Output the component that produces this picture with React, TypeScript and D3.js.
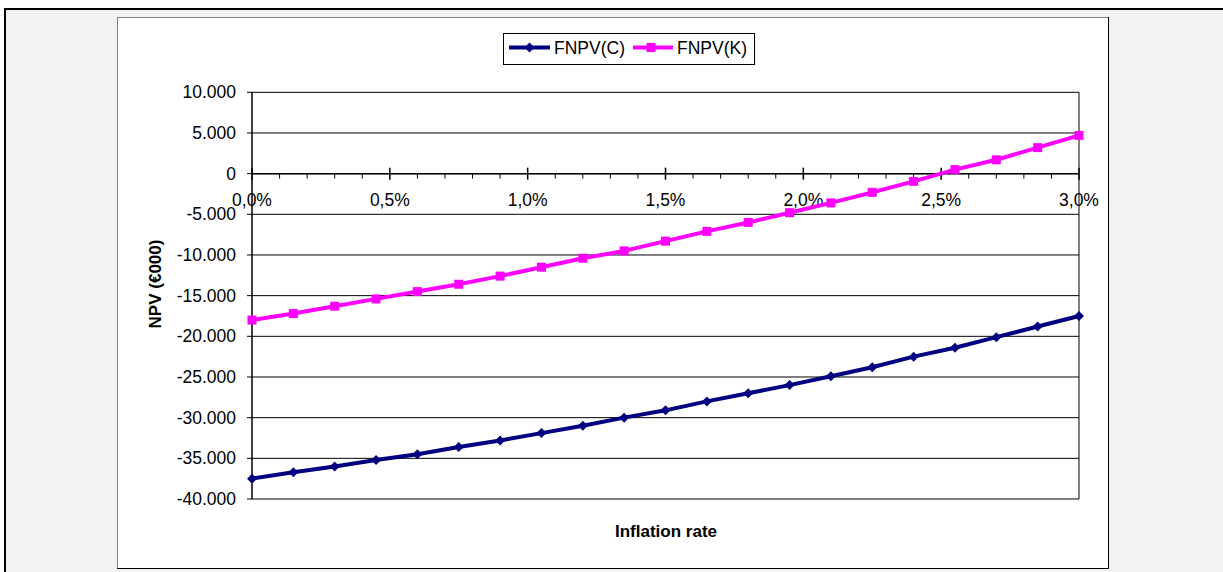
import * as d3 from 'd3'

const rates = [0, 0.15, 0.3, 0.45, 0.6, 0.75, 0.9, 1.05, 1.2, 1.35, 1.5, 1.65, 1.8, 1.95, 2.1, 2.25, 2.4, 2.55, 2.7, 2.85, 3.0]
const fnpvC = [-37500, -36700, -36000, -35200, -34500, -33600, -32800, -31900, -31000, -30000, -29100, -28000, -27000, -26000, -24900, -23800, -22500, -21400, -20100, -18800, -17500]
const fnpvK = [-18000, -17200, -16300, -15400, -14500, -13600, -12600, -11500, -10400, -9500, -8300, -7100, -6000, -4800, -3600, -2300, -950, 500, 1700, 3200, 4700]
const yTicks = [10000, 5000, 0, -5000, -10000, -15000, -20000, -25000, -30000, -35000, -40000]
const xMajor = [0, 0.5, 1, 1.5, 2, 2.5, 3]
const seriesNames = ['FNPV(C)', 'FNPV(K)']

const W = 1223
const H = 572
const font = '"Liberation Sans", Arial, sans-serif'

// european style: dot for thousands, comma for decimals, plain hyphen minus
const locale = d3.formatLocale({ decimal: ',', thousands: '.', grouping: [3], currency: ['€', ''], minus: '-' })
const fmtY = locale.format(',.0f')
const fmtX = locale.format('.1f')

export default function App() {
    const x = d3.scaleLinear().domain([0, 3]).range([252, 1079])
    const y = d3.scaleLinear().domain([-40000, 10000]).range([499, 92.3])

    const line = d3.line<number>()
        .x((_, i) => x(rates[i]))
        .y(d => y(d))

    const minor = d3.range(0, 31).map(i => i / 10).filter(v => Math.round(v * 10) % 5 !== 0)
    const y0 = y(0)

    const diamond = (cx: number, cy: number, r: number) =>
        `M${cx},${cy - r}L${cx + r},${cy}L${cx},${cy + r}L${cx - r},${cy}Z`

    return (
        <svg width={W} height={H} style={{ position: 'absolute', left: 0, top: 0, fontFamily: font }}>
            <rect x={0} y={0} width={W} height={H} fill="#fff" />
            <rect x={5} y={9} width={W} height={H} fill="#f2f2f2" stroke="#000" strokeWidth={2} />
            {/* chart area */}
            <rect x={117.5} y={17.5} width={991} height={551} fill="#fff" stroke="#808080" strokeWidth={1} />
            <line x1={1108.5} x2={1108.5} y1={17} y2={569} stroke="#000" />
            <line x1={117} x2={1109} y1={568.5} y2={568.5} stroke="#000" />

            {/* gridlines */}
            {yTicks.map(t => (
                <line key={t} x1={x(0)} x2={x(3)} y1={y(t)} y2={y(t)} stroke="#000" strokeWidth={1} />
            ))}
            <line x1={x(3)} x2={x(3)} y1={y(10000)} y2={y(-40000)} stroke="#000" strokeWidth={1} />

            {/* y axis */}
            <line x1={x(0)} x2={x(0)} y1={y(10000)} y2={y(-40000)} stroke="#000" strokeWidth={1.5} />
            {yTicks.map(t => (
                <g key={'yt' + t}>
                    <line x1={x(0) - 5} x2={x(0)} y1={y(t)} y2={y(t)} stroke="#000" />
                    <text x={236} y={y(t)} dy="0.35em" textAnchor="end" fontSize={17.5} fill="#000">{fmtY(t)}</text>
                </g>
            ))}

            {/* x axis at zero */}
            <line x1={x(0)} x2={x(3)} y1={y0} y2={y0} stroke="#000" strokeWidth={1.5} />
            {minor.map(v => (
                <line key={'mn' + v} x1={x(v)} x2={x(v)} y1={y0} y2={y0 + 5} stroke="#000" />
            ))}
            {xMajor.map(v => (
                <g key={'mj' + v}>
                    <line x1={x(v)} x2={x(v)} y1={y0 - 6} y2={y0 + 6} stroke="#000" strokeWidth={1.5} />
                    <text x={x(v)} y={206} textAnchor="middle" fontSize={17.5} fill="#000">{fmtX(v) + '%'}</text>
                </g>
            ))}

            {/* series */}
            <path d={line(fnpvC) || ''} fill="none" stroke="#000080" strokeWidth={4} strokeLinejoin="round" />
            {fnpvC.map((v, i) => (
                <path key={'c' + i} d={diamond(x(rates[i]), y(v), 5)} fill="#000080" />
            ))}
            <path d={line(fnpvK) || ''} fill="none" stroke="#ff00ff" strokeWidth={4} strokeLinejoin="round" />
            {fnpvK.map((v, i) => (
                <rect key={'k' + i} x={x(rates[i]) - 4.5} y={y(v) - 4.5} width={9} height={9} fill="#ff00ff" />
            ))}

            {/* axis titles */}
            <text x={666} y={537} textAnchor="middle" fontSize={17} fontWeight="bold" fill="#000">Inflation rate</text>
            <text transform="translate(161,284) rotate(-90)" textAnchor="middle" fontSize={17} fontWeight="bold" fill="#000">NPV (€000)</text>

            {/* legend */}
            <rect x={503.5} y={33.5} width={251} height={31} fill="#fff" stroke="#000" strokeWidth={1} />
            <line x1={509} x2={550} y1={47.5} y2={47.5} stroke="#000080" strokeWidth={4} />
            <path d={diamond(529.5, 47.5, 5)} fill="#000080" />
            <text x={554} y={47.5} dy="0.35em" fontSize={17.5} fill="#000">{seriesNames[0]}</text>
            <line x1={633} x2={673} y1={47.5} y2={47.5} stroke="#ff00ff" strokeWidth={4} />
            <rect x={646.5} y={43} width={9} height={9} fill="#ff00ff" />
            <text x={677} y={47.5} dy="0.35em" fontSize={17.5} fill="#000">{seriesNames[1]}</text>
        </svg>
    )
}
